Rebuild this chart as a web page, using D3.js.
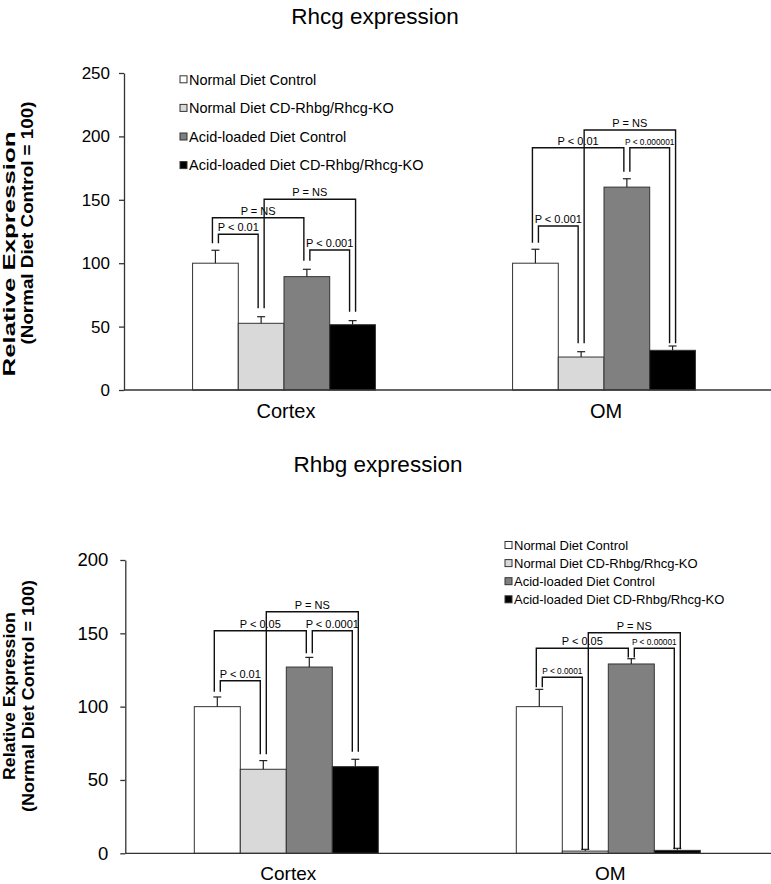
<!DOCTYPE html>
<html><head><meta charset="utf-8">
<script src="https://cdn.jsdelivr.net/npm/d3@7"></script>
<style>
body{margin:0;background:#fff}
svg{display:block}
text{font-family:"Liberation Sans",Arial,Helvetica,sans-serif;fill:#000}
</style>
</head><body>
<svg id="chart" width="771" height="884"></svg>
<script>
// ---------- DATA ----------
const categories = ["Cortex", "OM"];
const seriesNames = [
  "Normal Diet Control",
  "Normal Diet CD-Rhbg/Rhcg-KO",
  "Acid-loaded Diet Control",
  "Acid-loaded Diet CD-Rhbg/Rhcg-KO"
];
const seriesColors = ["#ffffff", "#d9d9d9", "#808080", "#000000"];

const rhcgCortex = [100, 52.6, 89.4, 51.5];
const rhcgCortexErr = [10.2, 5.2, 5.8, 3.2];
const rhcgOM = [100, 26, 160, 31.3];
const rhcgOMErr = [11, 4.2, 6.6, 3.4];
const rhcgTicks = [0, 50, 100, 150, 200, 250];

const rhbgCortex = [100, 57.3, 127, 59.1];
const rhbgCortexErr = [6.6, 5.9, 6.6, 5];
const rhbgOM = [100, 1.5, 129.1, 2];
const rhbgOMErr = [11.8, 1.2, 3.6, 1.4];
const rhbgTicks = [0, 50, 100, 150, 200];

// significance brackets: bar a -> bar b, top level and leg ends in data units
const rhcgBrackets = [
  {cat:"Cortex", a:0, sa:1,  b:1, sb:-1, top:122.8, endA:115.7, endB:64.4, label:"P < 0.01"},
  {cat:"Cortex", a:0, sa:-1, b:2, sb:-1, top:135.9, endA:115.7, endB:102,  label:"P = NS"},
  {cat:"Cortex", a:1, sa:1,  b:3, sb:1,  top:150.4, endA:64.4,  endB:61.7, label:"P = NS"},
  {cat:"Cortex", a:2, sa:1,  b:3, sb:-1, top:110.4, endA:102,   endB:61.7, label:"P < 0.001"},
  {cat:"OM", a:0, sa:1,  b:1, sb:-1, top:129.3, endA:116.2, endB:36.8,  label:"P < 0.001"},
  {cat:"OM", a:0, sa:-1, b:2, sb:-1, top:191.1, endA:116.2, endB:172.2, label:"P < 0.01"},
  {cat:"OM", a:2, sa:1,  b:3, sb:-1, top:191.1, endA:172.2, endB:36.8,  label:"P < 0.000001", small:true},
  {cat:"OM", a:1, sa:1,  b:3, sb:1,  top:205,   endA:36.8,  endB:36.8,  label:"P = NS"}
];
const rhbgBrackets = [
  {cat:"Cortex", a:0, sa:1,  b:1, sb:-1, top:117.7, endA:110.2, endB:67.5, label:"P < 0.01"},
  {cat:"Cortex", a:0, sa:-1, b:2, sb:-1, top:151.8, endA:110.2, endB:136.4, label:"P < 0.05"},
  {cat:"Cortex", a:1, sa:1,  b:3, sb:1,  top:164.7, endA:67.5,  endB:69.3, label:"P = NS"},
  {cat:"Cortex", a:2, sa:1,  b:3, sb:-1, top:151.8, endA:136.4, endB:69.3, label:"P < 0.0001"},
  {cat:"OM", a:0, sa:1,  b:1, sb:-1, top:120,   endA:113.2, endB:2.3,   label:"P < 0.0001", small:true},
  {cat:"OM", a:0, sa:-1, b:2, sb:-1, top:139.8, endA:113.2, endB:133.6, label:"P < 0.05"},
  {cat:"OM", a:2, sa:1,  b:3, sb:-1, top:139.8, endA:133.6, endB:2.7,   label:"P < 0.00001", small:true},
  {cat:"OM", a:1, sa:1,  b:3, sb:1,  top:150.4, endA:2.7,   endB:2.7,   label:"P = NS"}
];

const yTitle1 = "Relative Expression";
const yTitle2 = "(Normal Diet Control = 100)";

// ---------- DRAW ----------
const svg = d3.select("#chart");

function drawChart(cfg) {
  const g = svg.append("g");
  const y = d3.scaleLinear().domain([0, d3.max(cfg.ticks)]).range([cfg.y0, cfg.y1]);
  const x0 = d3.scaleBand().domain(categories).range([cfg.xAxis, cfg.xEnd]);
  const x1 = d3.scaleBand().domain(d3.range(seriesNames.length))
    .range([0, x0.bandwidth()]).paddingInner(0).paddingOuter(1.5);
  const vals = {Cortex: cfg.cortex, OM: cfg.om};
  const errs = {Cortex: cfg.cortexErr, OM: cfg.omErr};
  const cx = (cat, i) => x0(cat) + x1(i) + x1.bandwidth() / 2;

  // title
  g.append("text").attr("x", cfg.titleX).attr("y", cfg.titleY)
    .attr("text-anchor", "middle").style("font-size", cfg.titleSize + "px").text(cfg.title);

  // bars
  categories.forEach(cat => {
    const grp = g.append("g");
    grp.selectAll("rect").data(vals[cat]).join("rect")
      .attr("x", (d, i) => x0(cat) + x1(i))
      .attr("y", d => y(d))
      .attr("width", x1.bandwidth())
      .attr("height", d => y(0) - y(d))
      .attr("fill", (d, i) => seriesColors[i])
      .attr("stroke", "#333").attr("stroke-width", 1);
    vals[cat].forEach((v, i) => {
      const xc = cx(cat, i);
      const yt = y(v + errs[cat][i]);
      grp.append("line").attr("x1", xc).attr("x2", xc).attr("y1", y(v)).attr("y2", yt)
        .attr("stroke", "#222").attr("stroke-width", 1.2);
      grp.append("line").attr("x1", xc - 4).attr("x2", xc + 4).attr("y1", yt).attr("y2", yt)
        .attr("stroke", "#222").attr("stroke-width", 1.2);
    });
  });

  // axes
  const ya = g.append("g").attr("transform", `translate(${cfg.xAxis},0)`)
    .call(d3.axisLeft(y).tickValues(cfg.ticks).tickSize(5).tickPadding(cfg.tickPad).tickSizeOuter(0));
  ya.select(".domain").attr("stroke", "#333").attr("stroke-width", 1.3);
  ya.selectAll(".tick line").attr("stroke", "#333").attr("stroke-width", 1.3);
  ya.selectAll(".tick text").style("font-size", cfg.tickSize + "px").attr("fill", "#000")
    .style("font-family", '"Liberation Sans",Arial,sans-serif');
  g.append("line").attr("x1", cfg.xAxis).attr("x2", cfg.lineEnd).attr("y1", y(0)).attr("y2", y(0))
    .attr("stroke", "#333").attr("stroke-width", 1.3);

  // category labels
  categories.forEach(cat => {
    g.append("text").attr("x", x0(cat) + x0.bandwidth() / 2 + 2).attr("y", y(0) + cfg.catDy)
      .attr("text-anchor", "middle").style("font-size", cfg.catSize + "px").text(cat);
  });

  // y title (two lines, stretched along their length like the original)
  [yTitle1, yTitle2].forEach((t, k) => {
    const tx = g.append("text")
      .attr("text-anchor", "middle").style("font-size", cfg.yTitleSize + "px")
      .style("font-weight", "bold").text(t);
    const nat = tx.node().getComputedTextLength();
    const sx = cfg.yTitleLen[k] / nat;
    tx.attr("transform", `translate(${cfg.yTitleX[k]},${cfg.yTitleY[k]}) rotate(-90) scale(${sx},1)`);
  });

  // legend
  seriesNames.forEach((s, i) => {
    const ly = cfg.legY + i * cfg.legStep;
    g.append("rect").attr("x", cfg.legX).attr("y", ly - 3.5).attr("width", 7).attr("height", 7)
      .attr("fill", seriesColors[i]).attr("stroke", "#333").attr("stroke-width", 1);
    g.append("text").attr("x", cfg.legX + 9).attr("y", ly).attr("dy", "0.36em")
      .style("font-size", cfg.legSize + "px").text(s);
  });

  // brackets
  const off = 3;
  cfg.brackets.forEach(b => {
    const xa = cx(b.cat, b.a) + b.sa * off;
    const xb = cx(b.cat, b.b) + b.sb * off;
    g.append("path")
      .attr("d", `M${xa},${y(b.endA)}V${y(b.top)}H${xb}V${y(b.endB)}`)
      .attr("fill", "none").attr("stroke", "#111").attr("stroke-width", 1.4);
    g.append("text").attr("x", (xa + xb) / 2).attr("y", y(b.top) - 3)
      .attr("text-anchor", "middle").style("font-size", (b.small ? 8.3 : 11) + "px").text(b.label);
  });
}

drawChart({
  title: "Rhcg expression", titleX: 375, titleY: 24, titleSize: 22.5,
  cortex: rhcgCortex, cortexErr: rhcgCortexErr, om: rhcgOM, omErr: rhcgOMErr,
  ticks: rhcgTicks, y0: 390, y1: 73, xAxis: 124, xEnd: 764, lineEnd: 771, tickPad: 9, tickSize: 17,
  catDy: 28, catSize: 20,
  yTitleX: [15, 33], yTitleY: [254, 223], yTitleLen: [245, 243], yTitleSize: 16.5,
  legX: 180, legY: 79.3, legStep: 28.6, legSize: 14.5,
  brackets: rhcgBrackets
});

drawChart({
  title: "Rhbg expression", titleX: 378, titleY: 472, titleSize: 22.5,
  cortex: rhbgCortex, cortexErr: rhbgCortexErr, om: rhbgOM, omErr: rhbgOMErr,
  ticks: rhbgTicks, y0: 853.3, y1: 560, xAxis: 125.3, xEnd: 769.3, lineEnd: 771, tickPad: 12, tickSize: 18.5,
  catDy: 27, catSize: 19,
  yTitleX: [14.5, 34], yTitleY: [696, 696], yTitleLen: [168, 232], yTitleSize: 16.5,
  legX: 505, legY: 545, legStep: 18.1, legSize: 13,
  brackets: rhbgBrackets
});
</script>
</body></html>
